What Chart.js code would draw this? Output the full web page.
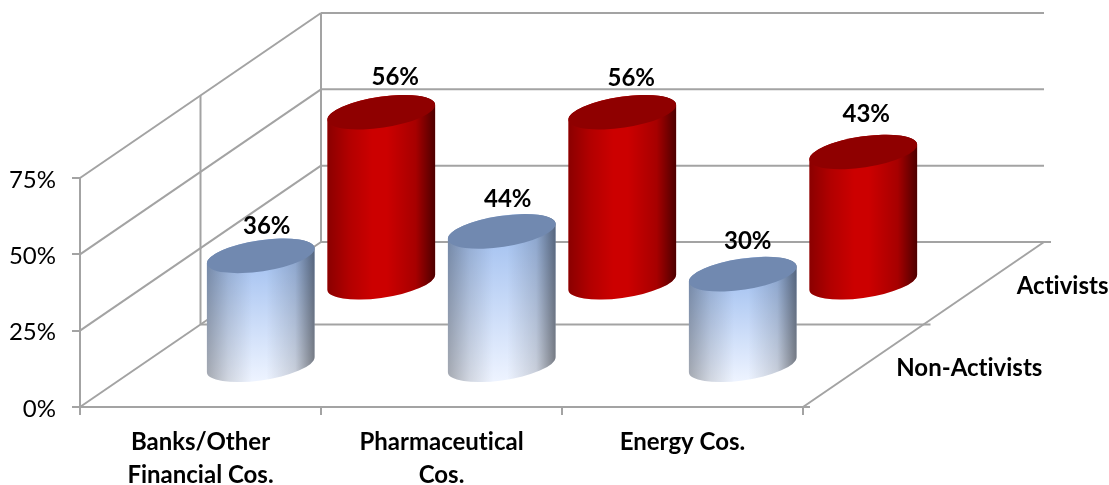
<!DOCTYPE html>
<html>
<head>
<meta charset="utf-8">
<title>Activists vs Non-Activists</title>
<script src="https://cdn.jsdelivr.net/npm/chart.js@4/dist/chart.umd.js"></script>
<style>
  html, body { margin: 0; padding: 0; background: #fff; }
  #wrap { width: 1109px; height: 485px; }
</style>
</head>
<body>
<div id="wrap"><canvas id="chart"></canvas></div>
<script>
const categories = [['Banks/Other', 'Financial Cos.'], ['Pharmaceutical', 'Cos.'], 'Energy Cos.'];
const depthLabels = ['Non-Activists', 'Activists'];
const nonActivists = [36, 44, 30];
const activists = [56, 56, 43];
const yTicks = [0, 25, 50, 75];

// floor runs back from the front edge by this many pixels
const DEPTH_DX = 241;
const DEPTH_DY = -165;
const GRID = '#a3a3a3';
const FONT = 'Lato, Carlito, sans-serif';

// --- Cylinder bars ---
class CylinderElement extends Chart.BarElement {
  draw(ctx) {
    const ds = this.series;
    const cx = this.x + DEPTH_DX * ds.depth;
    const shift = DEPTH_DY * ds.depth;
    const top = this.y + shift;
    const base = this.base + shift;
    const tilt = -8.5 * Math.PI / 180;
    const a = this.width / 2 * 1.01;
    const b = a * 0.285;
    // angle on the ellipse where the side walls touch it
    const t = Math.atan(-(b / a) * Math.tan(tilt));
    const half = this.width / 2;

    ctx.save();
    ctx.beginPath();
    ctx.ellipse(cx, top, a, b, tilt, t, t + Math.PI, true);
    ctx.ellipse(cx, base, a, b, tilt, t + Math.PI, t, true);
    ctx.closePath();

    const vert = ctx.createLinearGradient(0, top, 0, base + b);
    vert.addColorStop(0, ds.bodyTop);
    vert.addColorStop(1, ds.bodyBottom);
    ctx.fillStyle = vert;
    ctx.fill();

    // side shading stays light until close to the edges
    const horiz = ctx.createLinearGradient(cx - half, 0, cx + half, 0);
    horiz.addColorStop(0, `rgba(0,0,0,${ds.shadeLeft})`);
    horiz.addColorStop(0.2, `rgba(0,0,0,${ds.shadeLeft * 0.4})`);
    horiz.addColorStop(0.42, 'rgba(0,0,0,0)');
    horiz.addColorStop(0.55, 'rgba(0,0,0,0)');
    horiz.addColorStop(0.82, `rgba(0,0,0,${ds.shadeRight * 0.3})`);
    horiz.addColorStop(1, `rgba(0,0,0,${ds.shadeRight})`);
    ctx.fillStyle = horiz;
    ctx.fill();

    ctx.beginPath();
    ctx.ellipse(cx, top, a, b, tilt, 0, Math.PI * 2);
    ctx.fillStyle = ds.capColor;
    ctx.fill();
    ctx.restore();
  }
}
CylinderElement.id = 'cylinder';
CylinderElement.defaults = Chart.BarElement.defaults;

class CylinderController extends Chart.BarController {
  updateElements(bars, start, count, mode) {
    super.updateElements(bars, start, count, mode);
    bars.forEach(bar => { bar.series = this.getDataset(); });
  }
}
CylinderController.id = 'cylinder';
CylinderController.defaults = { ...Chart.BarController.defaults, dataElementType: 'cylinder' };
CylinderController.overrides = Chart.BarController.overrides;

Chart.register(CylinderElement, CylinderController);

// --- Walls and floor behind the bars ---
const wallsPlugin = {
  id: 'walls',
  beforeDraw(chart) {
    // no "ti" ligature in the axis text
    chart.ctx.textRendering = 'optimizeSpeed';
  },
  beforeDatasetsDraw(chart) {
    const { x: xs, y: ys } = chart.scales;
    const ctx = chart.ctx;
    const left = xs.left, right = xs.right;
    const zero = ys.getPixelForValue(0);
    const line = (x1, y1, x2, y2) => {
      ctx.beginPath();
      ctx.moveTo(x1, y1);
      ctx.lineTo(x2, y2);
      ctx.stroke();
    };
    ctx.save();
    ctx.strokeStyle = GRID;
    ctx.lineWidth = 2;
    yTicks.forEach(v => {
      const y = ys.getPixelForValue(v);
      line(left, y, left + DEPTH_DX, y + DEPTH_DY);
      line(left + DEPTH_DX, y + DEPTH_DY, right + DEPTH_DX, y + DEPTH_DY);
    });
    // vertical edges of the side wall, back and middle
    const topY = ys.getPixelForValue(75);
    [0.5, 1].forEach(d => {
      line(left + DEPTH_DX * d, topY + DEPTH_DY * d, left + DEPTH_DX * d, zero + DEPTH_DY * d);
    });
    // floor: middle line, right edge and their small ticks
    line(left + DEPTH_DX / 2, zero + DEPTH_DY / 2, right + DEPTH_DX / 2 + 7, zero + DEPTH_DY / 2);
    line(right, zero, right + DEPTH_DX, zero + DEPTH_DY);
    line(right, zero, right + 7, zero);
    line(right + DEPTH_DX, zero + DEPTH_DY, right + DEPTH_DX + 7, zero + DEPTH_DY);
    ctx.restore();
  },
  afterDatasetsDraw(chart, args, opts) {
    const ctx = chart.ctx;
    const { x: xs, y: ys } = chart.scales;
    ctx.save();
    ctx.fillStyle = '#000';
    ctx.textBaseline = 'middle';
    ctx.font = `bold 24px ${FONT}`;

    // value labels above each cylinder
    ctx.textAlign = 'center';
    chart.data.datasets.forEach((ds, i) => {
      chart.getDatasetMeta(i).data.forEach((el, j) => {
        const nudge = opts.nudge[i][j];
        ctx.fillText(ds.data[j] + '%', el.x + DEPTH_DX * ds.depth + nudge[0], el.y + DEPTH_DY * ds.depth + nudge[1]);
      });
    });

    // series names along the right edge of the floor
    ctx.textAlign = 'left';
    const zero = ys.getPixelForValue(0);
    chart.data.datasets.forEach((ds, i) => {
      ctx.fillText(depthLabels[i], xs.right + DEPTH_DX * ds.depth + 33, zero + DEPTH_DY * ds.depth + 3);
    });
    ctx.restore();
  }
};

new Chart(document.getElementById('chart'), {
  type: 'cylinder',
  data: {
    labels: categories,
    datasets: [
      {
        label: 'Non-Activists', data: nonActivists, depth: 0.25,
        bodyTop: '#a3c1f0', bodyBottom: '#edf3ff', capColor: '#7189b0',
        shadeLeft: 0.3, shadeRight: 0.48, clip: false
      },
      {
        label: 'Activists', data: activists, depth: 0.75,
        bodyTop: '#cc0000', bodyBottom: '#cc0000', capColor: '#8f0000',
        shadeLeft: 0.32, shadeRight: 0.62, clip: false
      }
    ]
  },
  plugins: [wallsPlugin],
  options: {
    responsive: true,
    maintainAspectRatio: false,
    animation: false,
    events: [],
    datasets: { cylinder: { grouped: false, categoryPercentage: 1, barPercentage: 0.447 } },
    layout: { padding: { top: 178, right: 306, left: 0, bottom: 0 } },
    plugins: {
      legend: { display: false },
      tooltip: { enabled: false },
      walls: {
        nudge: [
          [[6, -30], [6, -32], [5, -33]],
          [[14, -35], [9, -34], [3, -38]]
        ]
      }
    },
    scales: {
      x: {
        afterFit: s => { s.height = 78; },
        border: { color: GRID, width: 2 },
        grid: { offset: true, drawOnChartArea: false, color: GRID, lineWidth: 2, tickLength: 8 },
        ticks: {
          color: '#000', padding: 11, maxRotation: 0, autoSkip: false,
          font: { family: FONT, size: 24, weight: 'bold', lineHeight: 1.375 }
        }
      },
      y: {
        min: 0, max: 75,
        afterFit: s => { s.width = 80; },
        border: { color: GRID, width: 2 },
        grid: { drawOnChartArea: false, color: GRID, lineWidth: 2, tickLength: 8 },
        ticks: {
          stepSize: 25, color: '#000', padding: 16, labelOffset: 2,
          font: { family: FONT, size: 24 },
          callback: v => v + '%'
        }
      }
    }
  }
});
</script>
</body>
</html>
